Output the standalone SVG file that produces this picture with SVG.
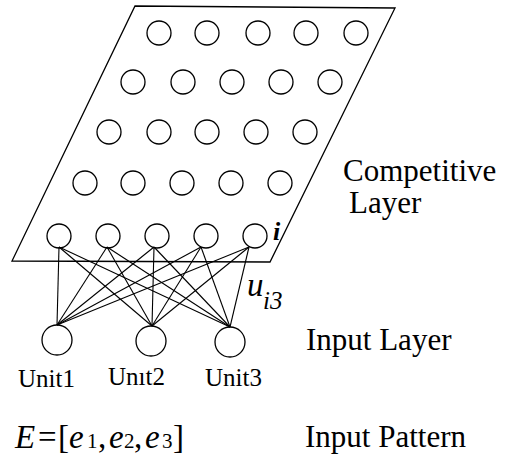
<svg xmlns="http://www.w3.org/2000/svg" width="505" height="471" viewBox="0 0 505 471">
<style>
.n{fill:none;stroke:#000;stroke-width:1.3}
.c line{stroke:#000;stroke-width:1.1}
.t{font-family:"Liberation Serif","Times New Roman",serif;fill:#000}
</style>
<rect width="505" height="471" fill="#fff"/>
<g id="layer-plane"><polygon class="n" points="135,6 395,8 270,262 12,261"/></g>
<g id="competitive-nodes">
<circle class="n" cx="159" cy="33" r="12"/><circle class="n" cx="207" cy="33" r="12"/><circle class="n" cx="258" cy="33" r="12"/><circle class="n" cx="306" cy="33" r="12"/><circle class="n" cx="356" cy="33" r="12"/>
<circle class="n" cx="133" cy="82" r="12"/><circle class="n" cx="183" cy="82" r="12"/><circle class="n" cx="232" cy="82" r="12"/><circle class="n" cx="281" cy="82" r="12"/><circle class="n" cx="330" cy="82" r="12"/>
<circle class="n" cx="109" cy="132" r="12"/><circle class="n" cx="159" cy="132" r="12"/><circle class="n" cx="207" cy="132" r="12"/><circle class="n" cx="256" cy="132" r="12"/><circle class="n" cx="305" cy="132" r="12"/>
<circle class="n" cx="85" cy="183" r="12"/><circle class="n" cx="133" cy="183" r="12"/><circle class="n" cx="182" cy="183" r="12"/><circle class="n" cx="231" cy="183" r="12"/><circle class="n" cx="280" cy="183" r="12"/>
<circle class="n" cx="59" cy="236" r="12"/><circle class="n" cx="108" cy="236" r="12"/><circle class="n" cx="157" cy="236" r="12"/><circle class="n" cx="206" cy="236" r="12"/><circle class="n" cx="255" cy="236" r="12"/>
</g>
<g id="unit1"><circle class="n" cx="57" cy="340" r="15"/><text class="t" x="18" y="387" font-size="25">Unit1</text></g>
<g id="unit2"><circle class="n" cx="151" cy="341" r="15"/><text class="t" x="108" y="385" font-size="25">Unıt2</text></g>
<g id="unit3"><circle class="n" cx="230" cy="342" r="15"/><text class="t" x="205" y="386" font-size="25">Unit3</text></g>
<g class="c" id="connectors">
<line x1="59" y1="247" x2="57" y2="325"/><line x1="59" y1="247" x2="152" y2="326"/><line x1="59" y1="247" x2="230" y2="327"/>
<line x1="107" y1="247" x2="57" y2="325"/><line x1="107" y1="247" x2="152" y2="326"/><line x1="107" y1="247" x2="230" y2="327"/>
<line x1="154" y1="247" x2="57" y2="325"/><line x1="154" y1="247" x2="152" y2="326"/><line x1="154" y1="247" x2="230" y2="327"/>
<line x1="201" y1="247" x2="57" y2="325"/><line x1="201" y1="247" x2="152" y2="326"/><line x1="201" y1="247" x2="230" y2="327"/>
<line x1="249" y1="247" x2="57" y2="325"/><line x1="249" y1="247" x2="152" y2="326"/><line x1="249" y1="247" x2="230" y2="327"/>
</g>
<g id="labels">
<text class="t" x="273" y="240" font-size="26" font-style="italic" font-weight="bold">i</text>
<text class="t" x="247" y="296" font-size="33" font-style="italic">u</text>
<text class="t" x="263" y="309" font-size="25" font-style="italic">i3</text>
<text class="t" x="343" y="181" font-size="31">Competitive</text>
<text class="t" x="349" y="213" font-size="31">Layer</text>
<text class="t" x="306" y="350" font-size="31">Input Layer</text>
<text class="t" x="305" y="447" font-size="31">Input Pattern</text>
<text class="t" y="448" font-size="33"><tspan x="15" font-style="italic">E</tspan><tspan x="38">=</tspan><tspan x="58">[</tspan><tspan x="69" font-style="italic">e</tspan><tspan x="87" font-size="21">1</tspan><tspan x="98">,</tspan><tspan x="109" font-style="italic">e</tspan><tspan x="124" font-size="21">2</tspan><tspan x="134">,</tspan><tspan x="145" font-style="italic">e</tspan><tspan x="162" font-size="21">3</tspan><tspan x="173">]</tspan></text>
</g>
</svg>
